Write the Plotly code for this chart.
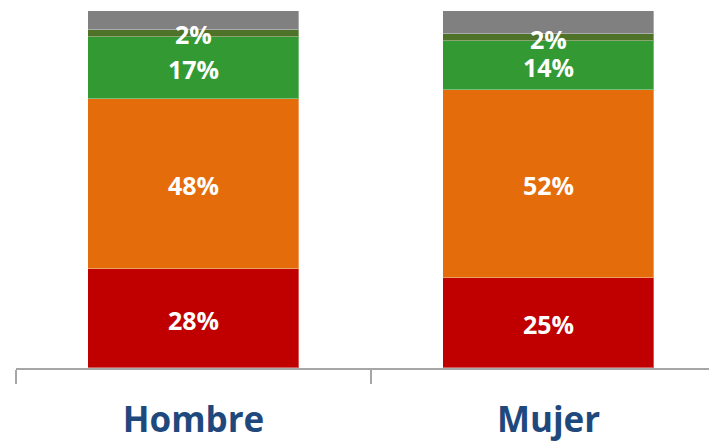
import plotly.graph_objects as go
import numpy as np

categories = ["Hombre", "Mujer"]
series_names = ["Rojo", "Naranja", "Verde", "Verde oscuro", "Gris"]
red_vals = [27.7, 25.2]
orange_vals = [47.6, 52.6]
green_vals = [17.4, 13.7]
darkgreen_vals = [2.0, 2.0]
gray_vals = [5.3, 6.5]
red_labels = ["28%", "25%"]
orange_labels = ["48%", "52%"]
green_labels = ["17%", "14%"]
darkgreen_labels = ["2%", "2%"]
gray_labels = ["", ""]

colors = ["#C00000", "#E46C0A", "#339933", "#4F7229", "#808080"]
all_vals = [red_vals, orange_vals, green_vals, darkgreen_vals, gray_vals]
all_labels = [red_labels, orange_labels, green_labels, darkgreen_labels, gray_labels]

fig = go.Figure()
for name, vals, col in zip(series_names, all_vals, colors):
    fig.add_trace(go.Bar(
        x=categories, y=vals, name=name, width=0.594,
        marker=dict(color=col, line=dict(color="rgba(255,255,255,0.35)", width=1)),
        hoverinfo="skip",
    ))

base = np.zeros(len(categories))
for vals, labels in zip(all_vals, all_labels):
    v = np.array(vals)
    mids = base + v / 2
    for cat, m, lab in zip(categories, mids, labels):
        if lab:
            fig.add_annotation(x=cat, y=m, text=f"<b>{lab}</b>", showarrow=False,
                               font=dict(family="Open Sans", size=25, color="white"),
                               borderpad=0, yshift=-1)
    base = base + v

fig.update_layout(
    barmode="stack",
    width=717, height=442,
    margin=dict(l=8, r=0, t=3, b=82),
    paper_bgcolor="white", plot_bgcolor="white",
    showlegend=False,
    bargap=0,
)
fig.update_xaxes(
    range=[-0.5, 1.497],
    showline=True, linecolor="#A6A6A6", linewidth=1.5,
    ticks="outside", tickson="boundaries", ticklen=14, tickwidth=1.5, tickcolor="#A6A6A6",
    tickfont=dict(family="Open Sans", size=35, color="#1F497D", weight="bold"),
    ticklabelstandoff=20,
    showgrid=False, zeroline=False, fixedrange=True,
)
fig.update_yaxes(range=[0, 100], visible=False, showgrid=False, zeroline=False)

fig.write_html("out.html")
